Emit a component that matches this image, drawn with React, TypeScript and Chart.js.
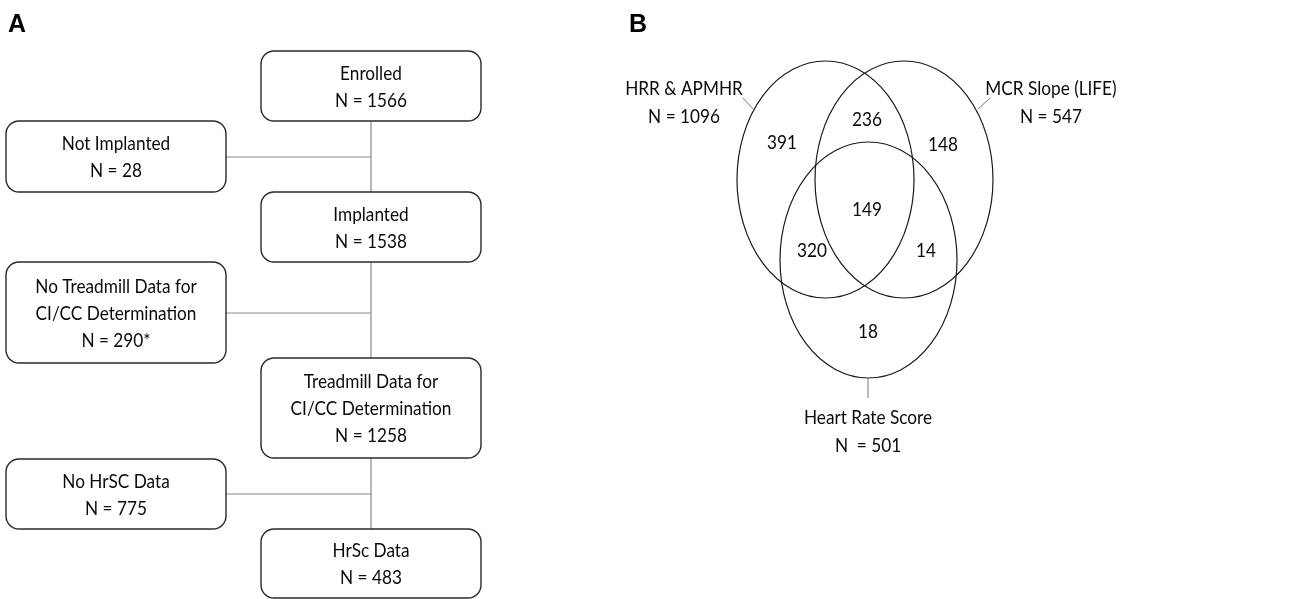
import React, { useEffect, useRef } from "react";
import { Chart, registerables } from "chart.js";

Chart.register(...registerables);

const W = 1293;
const H = 599;

// ---- Flowchart data (panel A)
const flowTitles: string[][] = [
  ["Enrolled"],
  ["Not Implanted"],
  ["Implanted"],
  ["No Treadmill Data for", "CI/CC Determination"],
  ["Treadmill Data for", "CI/CC Determination"],
  ["No HrSC Data"],
  ["HrSc Data"],
];
const flowCounts: number[] = [1566, 28, 1538, 290, 1258, 775, 483];
const flowCountMarks: string[] = ["", "", "", "*", "", "", ""];

// ---- Venn data (panel B)
const setNames: string[] = ["HRR & APMHR", "MCR Slope (LIFE)", "Heart Rate Score"];
const setTotals: number[] = [1096, 547, 501];
const setTotalPrefix: string[] = ["N = ", "N = ", "N  = "];
// regions: A only, B only, C only, A∩B, A∩C, B∩C, A∩B∩C
const regionCounts: number[] = [391, 148, 18, 236, 320, 14, 149];

// ---- Layout (pixel-space coordinates on the hidden linear scales)
const boxLayout = [
  { x0: 261, y0: 51, x1: 481, y1: 121 },
  { x0: 6, y0: 121, x1: 226, y1: 192 },
  { x0: 261, y0: 192, x1: 481, y1: 262 },
  { x0: 6, y0: 262, x1: 226, y1: 363 },
  { x0: 261, y0: 358, x1: 481, y1: 458 },
  { x0: 6, y0: 459, x1: 226, y1: 529 },
  { x0: 261, y0: 529, x1: 481, y1: 598 },
];
const spineX = 371;
const branchY = [157, 313, 494];
const ellipseLayout = [
  { cx: 825.5, cy: 179.5, rx: 88.5, ry: 118.5 },
  { cx: 904, cy: 179.5, rx: 89, ry: 118.5 },
  { cx: 868.5, cy: 260, rx: 88.5, ry: 118 },
];
const leaderLayout = [
  { x0: 743, y0: 98, x1: 753, y1: 109 },
  { x0: 990, y0: 98, x1: 978, y1: 109 },
  { x0: 868, y0: 378, x1: 868, y1: 398 },
];
const setLabelLayout = [
  { x: 684, y: 89 },
  { x: 1051, y: 89 },
  { x: 868, y: 418 },
];
const regionLayout = [
  { x: 782, y: 143 },
  { x: 943, y: 145 },
  { x: 868, y: 332 },
  { x: 867, y: 120 },
  { x: 812, y: 251 },
  { x: 926, y: 251 },
  { x: 867, y: 210 },
];

const FONT = "Lato, 'Noto Sans', sans-serif";
const FS = 20;
const SX = 0.86;
const LINE = 27;

function drawText(ctx: CanvasRenderingContext2D, t: string, x: number, y: number) {
  ctx.save();
  ctx.translate(x, y);
  ctx.scale(SX, 1);
  ctx.fillText(t, 0, 0);
  ctx.restore();
}

const diagramPlugin = {
  id: "diagram",
  afterDatasetsDraw(chart: any) {
    const { ctx } = chart;
    const xs = chart.scales.x;
    const ys = chart.scales.y;
    const px = (v: number) => xs.getPixelForValue(v);
    const py = (v: number) => ys.getPixelForValue(v);
    ctx.save();

    // panel letters
    ctx.fillStyle = "#000";
    ctx.font = "bold 25px 'Liberation Sans', Arial, sans-serif";
    ctx.textAlign = "left";
    ctx.textBaseline = "alphabetic";
    ctx.fillText("A", px(8), py(32));
    ctx.fillText("B", px(629), py(32));

    // connectors
    ctx.strokeStyle = "#8a8a8a";
    ctx.lineWidth = 1.2;
    ctx.beginPath();
    ctx.moveTo(px(spineX), py(boxLayout[0].y1));
    ctx.lineTo(px(spineX), py(boxLayout[6].y0));
    branchY.forEach((by) => {
      ctx.moveTo(px(226), py(by));
      ctx.lineTo(px(spineX), py(by));
    });
    ctx.stroke();

    // boxes
    boxLayout.forEach((b, i) => {
      const x0 = px(b.x0), x1 = px(b.x1), y0 = py(b.y0), y1 = py(b.y1);
      ctx.fillStyle = "#fff";
      ctx.strokeStyle = "#2a2a2a";
      ctx.lineWidth = 1.4;
      ctx.beginPath();
      (ctx as any).roundRect(x0, y0, x1 - x0, y1 - y0, 13);
      ctx.fill();
      ctx.stroke();
      const lines = [...flowTitles[i], `N = ${flowCounts[i]}${flowCountMarks[i]}`];
      const cy = (y0 + y1) / 2;
      const cx = (x0 + x1) / 2;
      ctx.fillStyle = "#0a0a0a";
      ctx.font = `${FS}px ${FONT}`;
      ctx.textAlign = "center";
      ctx.textBaseline = "middle";
      lines.forEach((t, k) => {
        const ty = cy + (k - (lines.length - 1) / 2) * LINE;
        drawText(ctx, t, cx, ty + 1);
      });
    });

    // venn ellipses
    ctx.strokeStyle = "#1a1a1a";
    ctx.lineWidth = 1.2;
    ellipseLayout.forEach((e) => {
      const cx = px(e.cx), cy = py(e.cy);
      const rx = Math.abs(px(e.cx + e.rx) - cx);
      const ry = Math.abs(py(e.cy + e.ry) - cy);
      ctx.beginPath();
      ctx.ellipse(cx, cy, rx, ry, 0, 0, Math.PI * 2);
      ctx.stroke();
    });

    // leader lines
    ctx.strokeStyle = "#777";
    ctx.lineWidth = 1;
    leaderLayout.forEach((l) => {
      ctx.beginPath();
      ctx.moveTo(px(l.x0), py(l.y0));
      ctx.lineTo(px(l.x1), py(l.y1));
      ctx.stroke();
    });

    // set labels
    ctx.fillStyle = "#0a0a0a";
    ctx.font = `${FS}px ${FONT}`;
    ctx.textAlign = "center";
    ctx.textBaseline = "middle";
    setNames.forEach((n, i) => {
      const p = setLabelLayout[i];
      drawText(ctx, n, px(p.x), py(p.y));
      drawText(ctx, `${setTotalPrefix[i]}${setTotals[i]}`, px(p.x), py(p.y + LINE + 1));
    });

    // region counts via dataset points
    const meta = chart.getDatasetMeta(0);
    meta.data.forEach((pt: any, i: number) => {
      drawText(ctx, String(regionCounts[i]), pt.x, pt.y);
    });

    ctx.restore();
  },
};

export default function App() {
  const ref = useRef<HTMLCanvasElement | null>(null);
  useEffect(() => {
    if (!ref.current) return;
    const chart = new Chart(ref.current, {
      type: "scatter",
      data: {
        datasets: [
          {
            label: "Venn regions",
            data: regionLayout.map((p) => ({ x: p.x, y: p.y })),
            pointRadius: 0,
            pointHoverRadius: 0,
          },
        ],
      },
      options: {
        animation: false,
        responsive: false,
        maintainAspectRatio: false,
        layout: { padding: 0 },
        events: [],
        plugins: { legend: { display: false }, tooltip: { enabled: false }, title: { display: false } },
        scales: {
          x: { type: "linear", min: 0, max: W, display: false },
          y: { type: "linear", min: 0, max: H, reverse: true, display: false },
        },
      },
      plugins: [diagramPlugin],
    });
    return () => chart.destroy();
  }, []);
  return (
    <div style={{ position: "fixed", left: 0, top: 0, width: W, height: H, background: "#fff" }}>
      <canvas ref={ref} width={W} height={H} style={{ width: W, height: H, display: "block" }} />
    </div>
  );
}
